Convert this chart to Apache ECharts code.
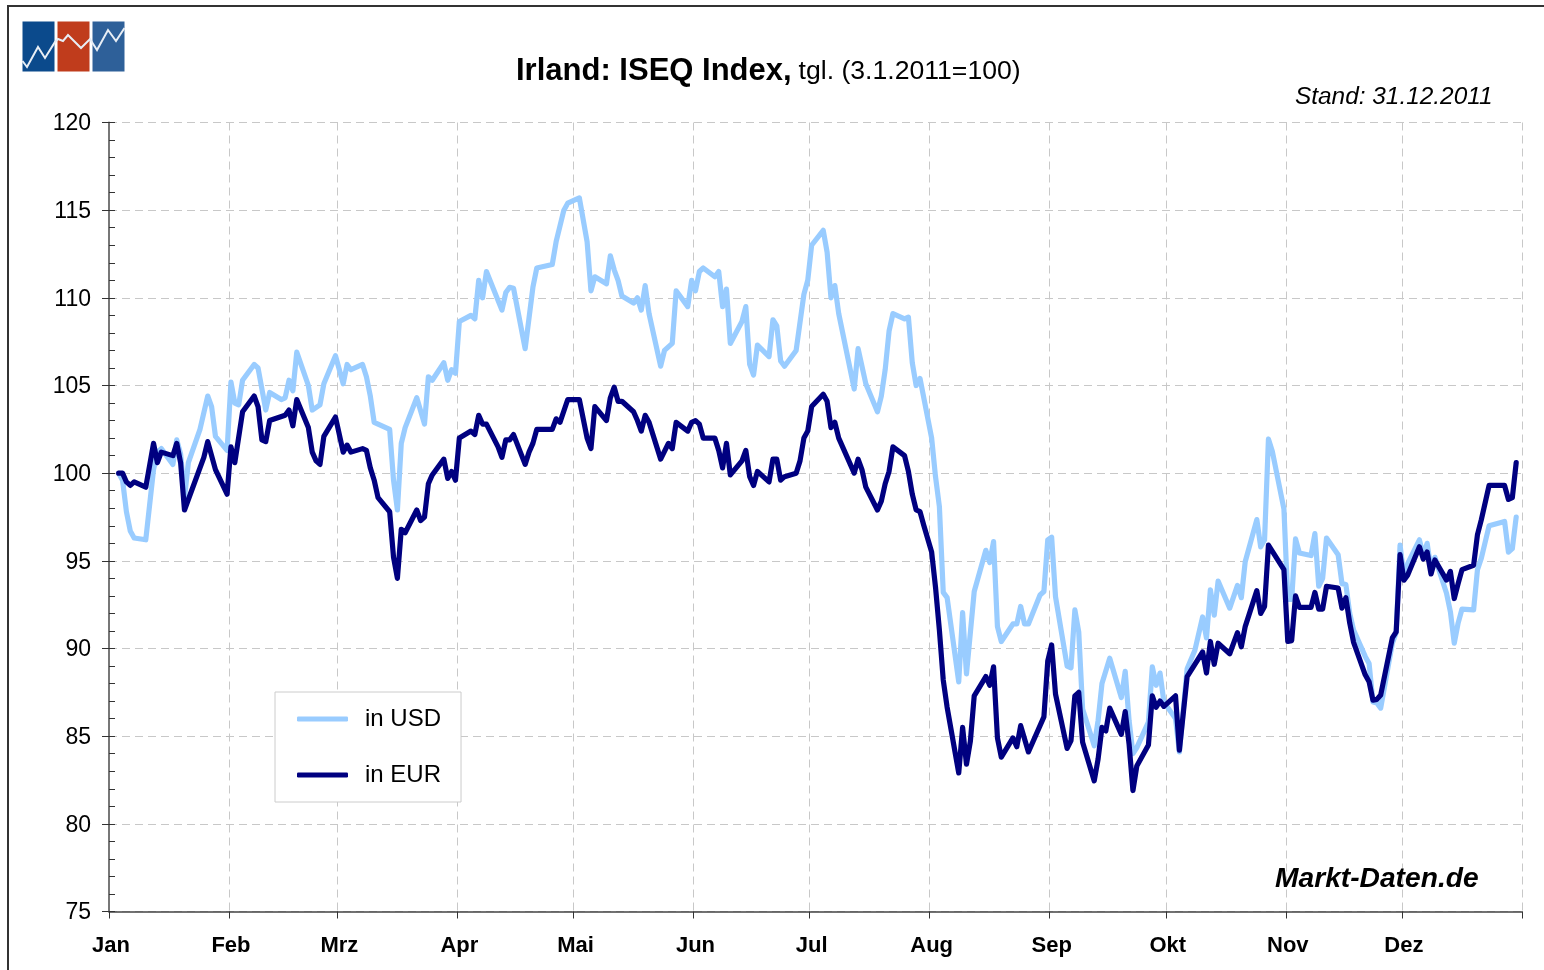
<!DOCTYPE html>
<html>
<head>
<meta charset="utf-8">
<style>html,body{margin:0;padding:0;background:#fff}#c{width:1544px;height:970px}</style>
<script src="https://cdn.jsdelivr.net/npm/echarts@6/dist/echarts.min.js"></script>
</head>
<body>
<div id="c"></div>
<script>
const monthLabels = ['Jan','Feb','Mrz','Apr','Mai','Jun','Jul','Aug','Sep','Okt','Nov','Dez'];
const monthStartDays = [0,31,59,90,120,151,181,212,243,273,304,334];
const yTicksMin = 75, yTicksMax = 120;
// [day of year 2011 (0 = 1 Jan), index value]
const usdPoints = [[2,100],[3,99.6],[4,97.8],[5,96.7],[6,96.3],[9,96.2],[11,100.2],[12,101.2],[13,101.4],[16,100.5],[17,101.9],[18,101.1],[19,98.6],[20,100.6],[23,102.5],[25,104.4],[26,103.8],[27,102.1],[30,101.3],[31,105.2],[32,104],[33,103.9],[34,105.3],[37,106.2],[38,106],[40,103.6],[41,104.6],[44,104.2],[45,104.3],[46,105.3],[47,104.7],[48,106.9],[51,105],[52,103.6],[54,103.9],[55,105.1],[58,106.7],[60,105.1],[61,106.2],[62,105.9],[65,106.2],[66,105.5],[67,104.4],[68,102.9],[72,102.5],[73,99.6],[74,97.9],[75,101.7],[76,102.6],[79,104.3],[81,102.8],[82,105.5],[83,105.3],[86,106.3],[87,105.3],[88,105.9],[89,105.7],[90,108.65],[93,109],[94,108.8],[95,111],[96,110],[97,111.5],[101,109.3],[102,110.3],[103,110.6],[104,110.55],[107,107.1],[109,110.6],[110,111.7],[114,111.9],[115,113.2],[116,114.1],[117,115],[118,115.4],[121,115.7],[123,113.2],[124,110.4],[125,111.2],[128,110.8],[129,112.4],[130,111.6],[131,111],[132,110.1],[135,109.7],[136,110],[137,109.3],[138,110.7],[139,109.1],[142,106.1],[143,107],[144,107.2],[145,107.4],[146,110.4],[149,109.5],[150,111],[151,110.4],[152,111.5],[153,111.7],[156,111.2],[157,111.5],[158,109.5],[159,110.5],[160,107.4],[163,108.65],[164,109.5],[165,106.2],[166,105.6],[167,107.3],[170,106.65],[171,108.75],[172,108.4],[173,106.4],[174,106.1],[177,107],[179,110.2],[180,111],[181,113],[184,113.85],[185,112.6],[186,110],[187,110.7],[188,109.1],[192,104.8],[193,107.1],[195,105.1],[198,103.5],[199,104.4],[200,105.9],[201,108.1],[202,109.1],[205,108.8],[206,108.9],[207,106.3],[208,105],[209,105.4],[212,102],[213,99.8],[214,98.1],[215,93.2],[216,92.9],[219,88.1],[220,92.05],[221,88.55],[223,93.25],[226,95.6],[227,94.9],[228,96.1],[229,91.25],[230,90.4],[233,91.4],[234,91.4],[235,92.4],[236,91.4],[237,91.4],[240,93.05],[241,93.25],[242,96.2],[243,96.35],[244,92.95],[247,89],[248,88.9],[249,92.2],[250,90.95],[251,86.55],[254,84.45],[255,85.9],[256,88],[258,89.45],[261,87.2],[262,88.7],[263,85.9],[264,84],[265,84.35],[268,85.8],[269,88.95],[270,87.9],[271,88.6],[272,86.95],[275,86],[276,84.1],[278,88.85],[280,89.9],[282,91.8],[283,90.6],[284,93.35],[285,91.9],[286,93.85],[289,92.3],[291,93.6],[292,92.9],[293,94.95],[296,97.35],[297,95.8],[298,96.2],[299,101.95],[300,101.25],[303,97.95],[304,92.8],[305,92.8],[306,96.25],[307,95.45],[310,95.3],[311,96.55],[312,93.55],[313,94],[314,96.3],[317,95.35],[318,93.7],[319,93.65],[320,92],[321,91.05],[324,89.55],[325,89.15],[326,86.95],[327,86.9],[328,86.6],[331,90.3],[332,90.9],[333,95.9],[334,94.1],[335,94.85],[338,96.2],[339,95.3],[340,96],[341,94.5],[342,95.2],[345,93.15],[346,92.1],[347,90.3],[348,91.45],[349,92.25],[352,92.2],[353,94.5],[354,95.15],[356,97],[360,97.25],[361,95.5],[362,95.7],[363,97.5]];
const eurPoints = [[2,100],[3,100],[4,99.5],[5,99.3],[6,99.5],[9,99.2],[11,101.7],[12,100.6],[13,101.2],[16,101],[17,101.7],[18,100.6],[19,97.9],[24,100.9],[25,101.8],[27,100.2],[30,98.8],[31,101.5],[32,100.6],[34,103.5],[37,104.4],[38,103.8],[39,101.9],[40,101.8],[41,103],[45,103.3],[46,103.6],[47,102.7],[48,104.2],[51,102.6],[52,101.2],[53,100.7],[54,100.5],[55,102.1],[58,103.2],[60,101.2],[61,101.6],[62,101.2],[65,101.4],[66,101.3],[67,100.3],[68,99.6],[69,98.6],[72,97.8],[73,95.2],[74,94],[75,96.8],[76,96.6],[79,97.9],[80,97.3],[81,97.5],[82,99.4],[83,99.9],[86,100.8],[87,99.7],[88,100.1],[89,99.6],[90,102],[93,102.4],[94,102.2],[95,103.3],[96,102.8],[97,102.8],[100,101.5],[101,100.9],[102,101.9],[103,101.9],[104,102.2],[107,100.5],[108,101.2],[109,101.7],[110,102.5],[114,102.5],[115,103.1],[116,102.9],[118,104.2],[121,104.2],[123,102],[124,101.4],[125,103.8],[128,103],[129,104.3],[130,104.9],[131,104.1],[132,104.1],[135,103.5],[136,103],[137,102.4],[138,103.3],[139,102.9],[142,100.8],[144,101.7],[145,101.4],[146,102.9],[149,102.4],[150,102.9],[151,103],[152,102.8],[153,102],[156,102],[157,101.3],[158,100.3],[159,101.7],[160,99.9],[163,100.7],[164,101.3],[165,99.8],[166,99.3],[167,100.1],[170,99.5],[171,100.8],[172,100.8],[173,99.6],[174,99.8],[177,100],[178,100.7],[179,102],[180,102.4],[181,103.8],[184,104.5],[185,104.1],[186,102.6],[187,102.9],[188,102],[192,100],[193,100.8],[194,100.2],[195,99.2],[198,97.9],[199,98.4],[200,99.4],[201,100.1],[202,101.5],[205,101],[206,100.1],[207,98.8],[208,97.9],[209,97.8],[210,97],[212,95.5],[213,93.5],[214,91.05],[215,88.2],[216,86.65],[219,82.9],[220,85.5],[221,83.4],[222,84.7],[223,87.3],[226,88.4],[227,87.9],[228,88.95],[229,84.9],[230,83.8],[233,84.9],[234,84.4],[235,85.6],[237,84.1],[241,86.1],[242,89.3],[243,90.2],[244,87.4],[247,84.3],[248,84.75],[249,87.3],[250,87.5],[251,84.65],[254,82.45],[255,83.7],[256,85.5],[257,85.3],[258,86.6],[261,85.1],[262,86.4],[263,84.55],[264,81.9],[265,83.3],[268,84.5],[269,87.3],[270,86.65],[271,87],[272,86.7],[275,87.3],[276,84.2],[278,88.4],[282,89.8],[283,88.6],[284,90.4],[285,89.1],[286,90.3],[289,89.7],[291,90.9],[292,90.1],[293,91.25],[296,93.3],[297,92],[298,92.4],[299,95.9],[303,94.5],[304,90.4],[305,90.45],[306,93],[307,92.35],[310,92.35],[311,93.2],[312,92.25],[313,92.25],[314,93.55],[317,93.45],[318,92.3],[319,92.9],[320,91.45],[321,90.35],[324,88.5],[325,88.1],[326,87.05],[327,87.1],[328,87.35],[331,90.6],[332,90.95],[333,95.35],[334,93.9],[335,94.2],[338,95.8],[339,95.1],[340,95.5],[341,94.25],[342,95.05],[345,93.9],[346,94.4],[347,92.85],[348,93.7],[349,94.5],[352,94.75],[353,96.5],[354,97.35],[356,99.3],[360,99.3],[361,98.5],[362,98.6],[363,100.6]];

const days = [];
for (let i = 0; i < 365; i++) days.push(String(i));
const FONT = '"Liberation Sans", Arial, sans-serif';
const isMonthStart = (i) => monthStartDays.includes(i);

const chart = echarts.init(document.getElementById('c'), null, {renderer:'canvas'});
chart.setOption({
  animation:false,
  backgroundColor:'#fff',
  textStyle:{fontFamily:FONT},
  title:[
    {left:516, top:56, padding:0, text:'{a|Irland: ISEQ Index,} {b|tgl. (3.1.2011=100)}',
     textStyle:{fontWeight:'normal',rich:{a:{fontFamily:FONT,fontWeight:'bold',fontSize:31,color:'#000'},b:{fontFamily:FONT,fontWeight:'normal',fontSize:26.6,color:'#000',padding:[0,0,0,2]}}}},
    {left:1295, top:85, padding:0, text:'Stand: 31.12.2011',
     textStyle:{fontFamily:FONT,fontStyle:'italic',fontWeight:'normal',fontSize:24.4,color:'#000'}},
    {left:1275, top:865, padding:0, text:'Markt-Daten.de',
     textStyle:{fontFamily:FONT,fontStyle:'italic',fontWeight:'bold',fontSize:28.2,color:'#000'}}
  ],
  grid:{left:109, right:22, top:122.5, height:789, containLabel:false},
  legend:{
    left:275, top:692, orient:'vertical', padding:[15,20,15,22], itemGap:32,
    itemWidth:51, itemHeight:5, icon:'roundRect', backgroundColor:'#fff', borderColor:'#ccc', borderWidth:1, borderRadius:0,
    data:['in USD','in EUR'],
    textStyle:{fontFamily:FONT,fontSize:24,color:'#000',padding:[0,0,0,12]}
  },
  xAxis:{
    type:'category', data:days, boundaryGap:true,
    axisLine:{lineStyle:{color:'#444',width:1.5}},
    axisTick:{show:true, length:7, interval:(i)=>isMonthStart(i), lineStyle:{color:'#333',width:1}},
    axisLabel:{show:true, interval:(i)=>isMonthStart(i), margin:23, hideOverlap:false,
      formatter:(v,i)=>monthLabels[monthStartDays.indexOf(i)],
      fontFamily:FONT,fontWeight:'bold',fontSize:22,color:'#000'},
    splitLine:{show:true, interval:(i)=>isMonthStart(i), lineStyle:{color:'#c8c8c8',width:1,type:[8,5]}}
  },
  yAxis:[
    {type:'value', min:yTicksMin, max:yTicksMax, interval:5, position:'left',
     axisLine:{show:true,lineStyle:{color:'#777',width:2}},
     axisTick:{show:true,length:7,lineStyle:{color:'#333',width:1}},
     axisLabel:{margin:18,formatter:'{v|{value}}',rich:{v:{fontFamily:FONT,fontSize:23,color:'#000',padding:[3,0,0,0]}}},
     splitLine:{show:true,lineStyle:{color:'#c8c8c8',width:1,type:[8,5]}}},
    {type:'value', min:yTicksMin, max:yTicksMax, interval:1, position:'left',
     axisLine:{show:false},
     axisTick:{show:true,inside:true,length:6,lineStyle:{color:'#333',width:1}},
     axisLabel:{show:false}, splitLine:{show:false}}
  ],
  series:[
    {name:'in USD', type:'line', data:usdPoints, showSymbol:false, symbol:'none', smooth:false,
     lineStyle:{color:'#99ccff',width:5.2,cap:'round',join:'round'}, itemStyle:{color:'#99ccff'}, z:3},
    {name:'in EUR', type:'line', data:eurPoints, showSymbol:false, symbol:'none', smooth:false,
     lineStyle:{color:'#000080',width:5.2,cap:'round',join:'round'}, itemStyle:{color:'#000080'}, z:4}
  ],
  graphic:[
    {type:'rect',z:0,shape:{x:8,y:6,width:1700,height:1100},style:{fill:null,stroke:'#333',lineWidth:2},silent:true},
    {type:'rect',shape:{x:22.5,y:21.5,width:32,height:50},style:{fill:'#0b4a8c'},silent:true},
    {type:'rect',shape:{x:57.5,y:21.5,width:32,height:50},style:{fill:'#c03c1c'},silent:true},
    {type:'rect',shape:{x:92.5,y:21.5,width:32,height:50},style:{fill:'#2e6099'},silent:true},
    {type:'polyline',shape:{points:[[22.5,61],[27,67],[38,47],[45,58],[55,42],[58,39],[63,41],[68,35],[81,48],[90,39],[97,50],[108,30],[116,41],[124.5,28]]},
     style:{fill:null,stroke:'#e8eef5',lineWidth:2},silent:true}
  ]
});
</script>
</body>
</html>
